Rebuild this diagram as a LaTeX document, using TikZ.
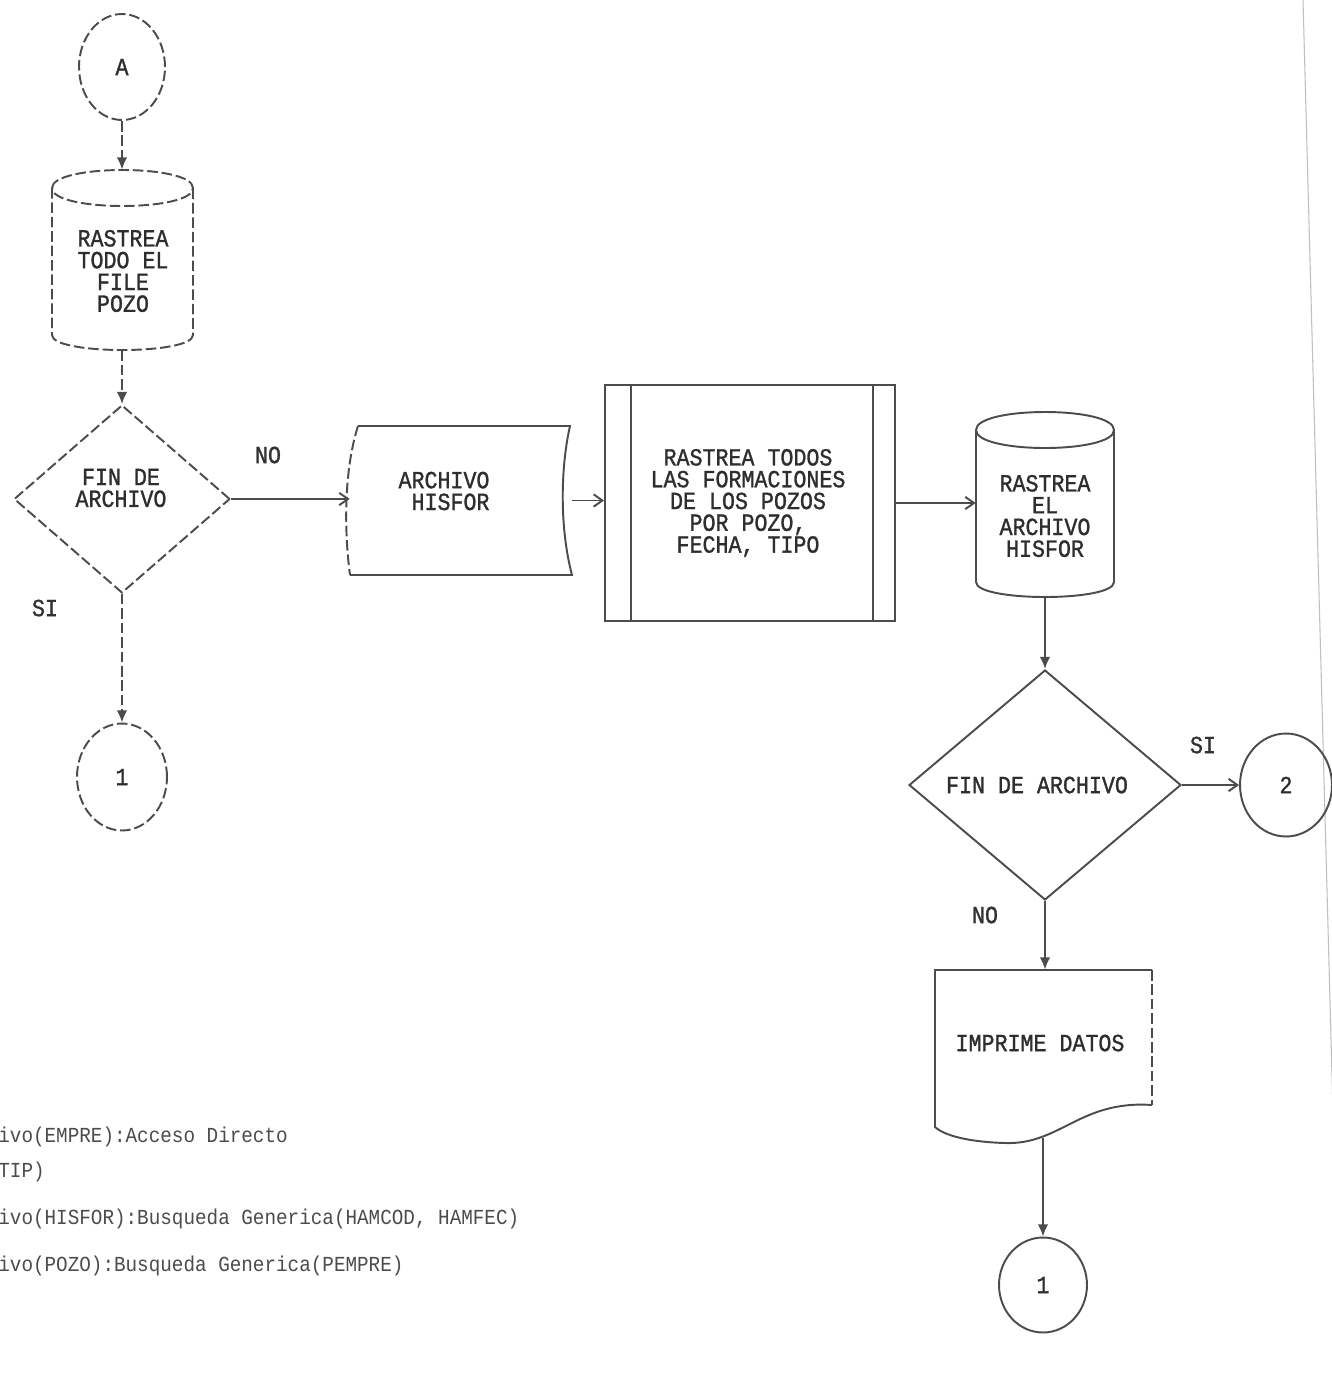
\documentclass[tikz,border=0pt]{standalone}
\usepackage{fontspec}
\usetikzlibrary{shapes.geometric,arrows.meta}
\newfontfamily\dmfont[FakeStretch=0.88,FakeBold=1.2]{Liberation Mono}
\newfontfamily\notefont[FakeStretch=0.9]{Liberation Mono}
\begin{document}
\begin{tikzpicture}[x=0.02cm,y=-0.02cm,
  ln/.style={draw=black!70, line width=1.1pt},
  dsh/.style={dash pattern=on 6pt off 2.2pt},
  varr/.style={ln, -{Latex[length=7pt,width=6pt]}},
  harr/.style={ln, -{Straight Barb[length=5pt,width=7pt]}},
  txt/.style={font=\dmfont\fontsize{14}{12.4}\selectfont, text=black!82, align=center, inner sep=0},
  lbl/.style={font=\dmfont\fontsize{14}{11}\selectfont, text=black!80, inner sep=0},
  note/.style={font=\notefont\fontsize{12.2}{12}\selectfont, text=black!70, inner sep=0, anchor=west},
  ghost/.style={draw=none, inner sep=0, rectangle},
  conn/.style={ellipse, ln, inner sep=0, txt}
]
\fill[white] (0,0) rectangle (1332,1373);
\useasboundingbox (0,0) rectangle (1332,1373);

% faint page edge
\draw[black!25, line width=0.6pt] (1303,0) -- (1334,1150);

% ---------------- left column (dashed) ----------------
\node[conn, dsh, minimum width=1.72cm, minimum height=2.12cm] (A) at (122,67) {A};

% cylinder 1
\node[ghost, minimum width=2.82cm, minimum height=3.6cm] (cyl1) at (122,260) {};
\draw[ln,dsh] (52,188) .. controls (52,164) and (193,164) .. (193,188)
                       .. controls (193,212) and (52,212) .. (52,188) -- cycle;
\draw[ln,dsh] (52,188) -- (52,335) .. controls (52,355) and (193,355) .. (193,335) -- (193,188);
\node[txt] (cyl1t) at (123,271) {RASTREA\\TODO EL\\FILE\\POZO};

\node[diamond, ln, dsh, minimum width=4.32cm, minimum height=3.76cm, inner sep=0] (d1) at (122,499) {};
\node[txt] (d1t) at (121,488) {FIN DE\\ARCHIVO};

\node[conn, dsh, minimum width=1.8cm, minimum height=2.14cm] (c1l) at (122,777) {1};

\draw[varr,dsh] (A.south) -- (cyl1.north);
\draw[varr,dsh] (cyl1.south) -- (d1.north);
\draw[varr,dsh] (d1.south) -- (c1l.north);

\node[lbl] (no1) at (268,455) {NO};
\node[lbl] (si1) at (45,608) {SI};

% ---------------- ARCHIVO HISFOR (stored data) ----------------
\node[ghost, minimum width=4.44cm, minimum height=2.98cm] (arch) at (461,500.5) {};
\draw[ln] (350,575) -- (572,575) .. controls (560,530) and (560,470) .. (570,426) -- (358,426);
\draw[ln,dsh] (358,426) .. controls (344,470) and (344,530) .. (350,575);
\node[txt] (archt) at (444,491) {ARCHIVO\\\ HISFOR};

\draw[harr] (d1.east) -- (d1.east -| arch.west);

% ---------------- predefined process ----------------
\node[rectangle, ln, minimum width=5.8cm, minimum height=4.72cm, inner sep=0] (proc) at (750,503) {};
\draw[ln] ([xshift=0.54cm]proc.north west) -- ([xshift=0.54cm]proc.south west);
\draw[ln] ([xshift=-0.46cm]proc.north east) -- ([xshift=-0.46cm]proc.south east);
\node[txt] (proct) at (748,503) {RASTREA TODOS\\LAS FORMACIONES\\DE LOS POZOS\\POR POZO,\\FECHA, TIPO};

\draw[harr] (arch.east) -- (arch.east -| proc.west);

% ---------------- cylinder 2 ----------------
\node[ghost, minimum width=2.76cm, minimum height=3.7cm] (cyl2) at (1045,504.5) {};
\draw[ln] (976,430) .. controls (976,406) and (1114,406) .. (1114,430)
                    .. controls (1114,454) and (976,454) .. (976,430) -- cycle;
\draw[ln] (976,430) -- (976,582) .. controls (976,602) and (1114,602) .. (1114,582) -- (1114,430);
\node[txt] (cyl2t) at (1045,516) {RASTREA\\EL\\ARCHIVO\\HISFOR};

\draw[harr] (proc.east) -- (proc.east -| cyl2.west);

% ---------------- decision 2 ----------------
\node[diamond, ln, minimum width=5.44cm, minimum height=4.6cm, inner sep=0] (d2) at (1045,785) {};
\node[txt] (d2t) at (1037,785) {FIN DE ARCHIVO};
\draw[varr] (cyl2.south) -- (d2.north);

\node[conn, minimum width=1.84cm, minimum height=2.06cm] (c2) at (1286,785) {2};
\draw[harr] (d2.east) -- (c2.west);
\node[lbl] (si2) at (1203,745) {SI};
\node[lbl] (no2) at (985,915) {NO};

% ---------------- document ----------------
\node[ghost, minimum width=4.34cm, minimum height=3.46cm] (doc) at (1043.5,1056.5) {};
\draw[ln] (1152,1105) .. controls (1080,1100) and (1060,1145) .. (1005,1143)
                      .. controls (970,1142) and (945,1136) .. (935,1127) -- (935,970) -- (1152,970);
\draw[ln,dsh] (1152,970) -- (1152,1105);
\node[txt] (doct) at (1040,1043) {IMPRIME DATOS};
\draw[varr] (d2.south) -- (d2.south |- doc.north);

\node[conn, minimum width=1.76cm, minimum height=1.9cm] (c1r) at (1043,1285) {1};
\draw[varr] ([yshift=0.1cm]doc.south -| c1r.north) -- (c1r.north);

% ---------------- notes ----------------
\node[note] (n1) at (-2,1137) {ivo(EMPRE):Acceso Directo};
\node[note] (n2) at (-2,1172) {TIP)};
\node[note] (n3) at (-2,1219) {ivo(HISFOR):Busqueda Generica(HAMCOD, HAMFEC)};
\node[note] (n4) at (-2,1266) {ivo(POZO):Busqueda Generica(PEMPRE)};
\end{tikzpicture}
\end{document}
